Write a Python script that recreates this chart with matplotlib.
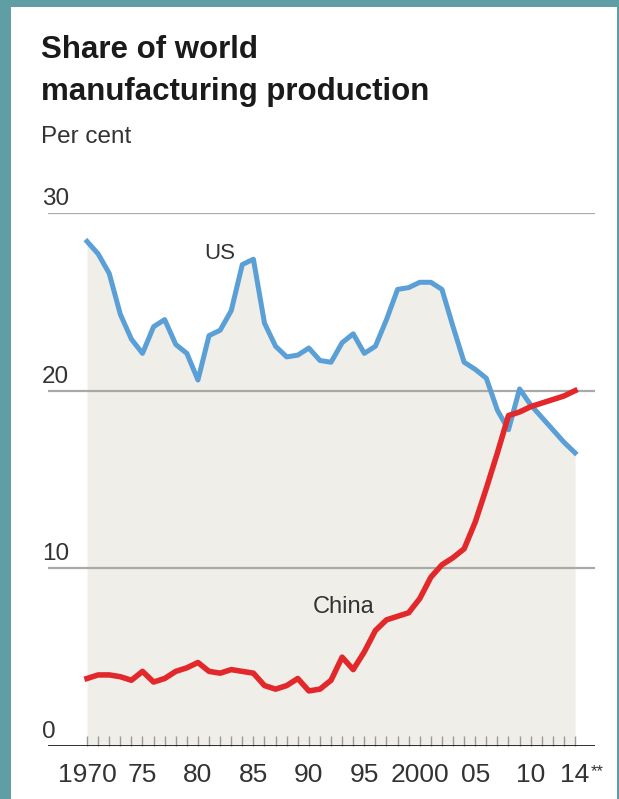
import numpy as np
import matplotlib
matplotlib.use("Agg")
import matplotlib.pyplot as plt
from matplotlib.patches import Rectangle
import matplotlib.transforms as mtransforms

plt.rcParams['font.family'] = ['Liberation Sans', 'DejaVu Sans']

years = list(range(1970, 2015))
us = [28.4, 27.7, 26.6, 24.3, 22.9, 22.1, 23.6, 24.0, 22.6, 22.1,
      20.6, 23.1, 23.4, 24.5, 27.1, 27.4, 23.8, 22.5, 21.9, 22.0,
      22.4, 21.7, 21.6, 22.7, 23.2, 22.1, 22.5, 24.0, 25.7, 25.8,
      26.1, 26.1, 25.7, 23.6, 21.6, 21.2, 20.7, 18.9, 17.8, 20.1,
      19.2, 18.5, 17.8, 17.1, 16.5]
china = [3.8, 4.0, 4.0, 3.9, 3.7, 4.2, 3.6, 3.8, 4.2, 4.4,
         4.7, 4.2, 4.1, 4.3, 4.2, 4.1, 3.4, 3.2, 3.4, 3.8,
         3.1, 3.2, 3.7, 5.0, 4.3, 5.3, 6.5, 7.1, 7.3, 7.5,
         8.3, 9.5, 10.2, 10.6, 11.1, 12.6, 14.5, 16.5, 18.6, 18.8,
         19.1, 19.3, 19.5, 19.7, 20.0]
yticks = [0, 10, 20, 30]
xticks = [1970, 1975, 1980, 1985, 1990, 1995, 2000, 2005, 2010, 2014]
xlabels = ['1970', '75', '80', '85', '90', '95', '2000', '05', '10', '14']

W, H = 619, 799
fig = plt.figure(figsize=(W / 100, H / 100), dpi=100)
fig.patch.set_facecolor('#5f9ea5')
fig.patches.append(Rectangle((11 / W, 0), (617 - 11) / W, (H - 7) / H,
                             transform=fig.transFigure, facecolor='white',
                             edgecolor='none', zorder=-5))

# axes: y=30 at px 213, y=0 at px 746, x from px 48 to 595
ax = fig.add_axes([48 / W, (H - 746) / H, 547 / W, 533 / H])
ax.set_zorder(2)
ax.set_facecolor('none')
ax.set_xlim(1966.48, 2015.8)
ax.set_ylim(0, 30)

ax.fill_between(years, 0, us, color='#efeee9', lw=0, zorder=1)
for v in yticks[1:]:
    ax.axhline(v, color='#a9a9a9', lw=1.6, zorder=2)
ax.axhline(0, color='#1a1a1a', lw=2, zorder=5)

ax.plot(years, us, color='#5a9fd6', lw=3.6, solid_joinstyle='round', zorder=3)
ax.plot(years, china, color='#e3282b', lw=4.0, solid_joinstyle='round', zorder=4)

for s in ax.spines.values():
    s.set_visible(False)
ax.set_yticks([])
ax.set_xticks(xticks)
ax.set_xticklabels(xlabels, fontsize=19, color='#333333')
ax.set_xticks(years, minor=True)
ax.tick_params(axis='x', which='both', direction='in', length=7, width=1,
               color='#999999', pad=12)

trans = mtransforms.blended_transform_factory(ax.transAxes, ax.transData)
for v in yticks:
    ax.text(-0.011, v + 0.45, str(v), transform=trans, ha='left', va='baseline',
            fontsize=17.5, color='#333333')

ax.text(2015.4, -1.0, '**', fontsize=12, color='#333333', ha='left', va='top',
        clip_on=False)

ax.text(1982.0, 27.7, 'US', fontsize=16, color='#333333', ha='center', va='center')
ax.text(1993.1, 7.8, 'China', fontsize=17, color='#333333', ha='center', va='center')

fig.text(41 / W, 1 - 58 / H, 'Share of world', fontsize=22.5, fontweight='bold',
         color='#1a1a1a', ha='left', va='baseline')
fig.text(41 / W, 1 - 100 / H, 'manufacturing production', fontsize=22.5,
         fontweight='bold', color='#1a1a1a', ha='left', va='baseline')
fig.text(41 / W, 1 - 143 / H, 'Per cent', fontsize=17.5, color='#333333',
         ha='left', va='baseline')

fig.savefig('out.png', dpi=100, facecolor=fig.get_facecolor())
